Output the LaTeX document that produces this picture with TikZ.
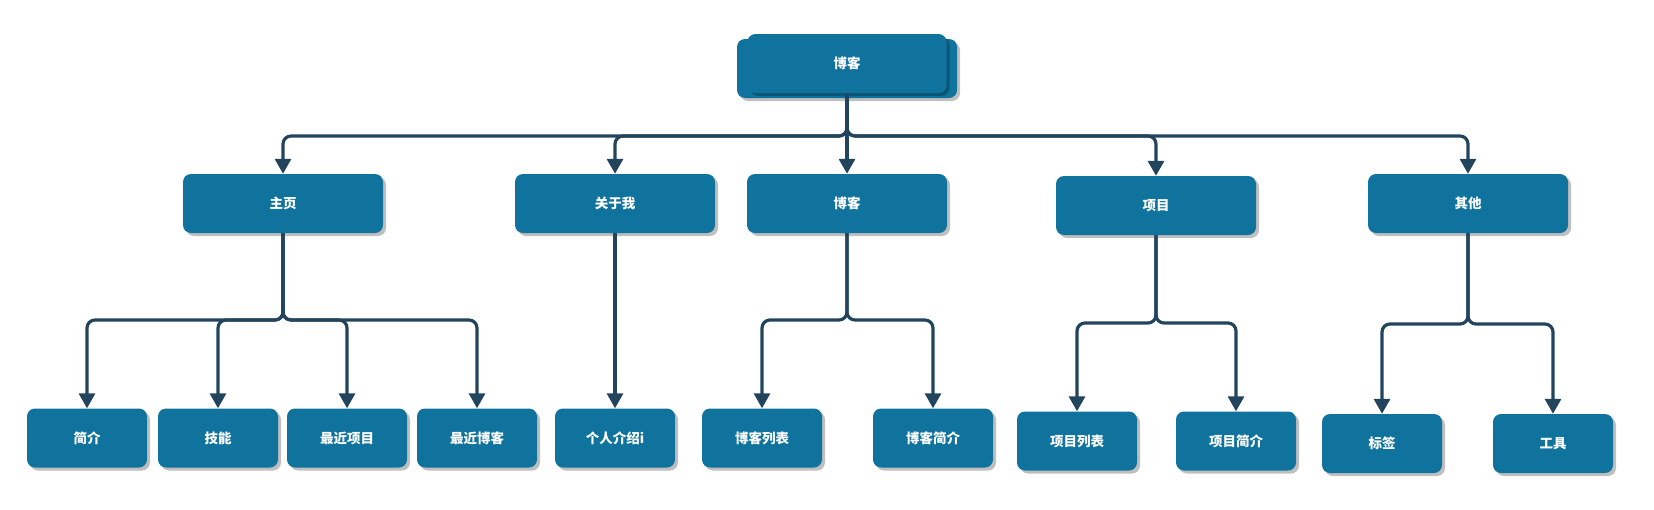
\documentclass[tikz,border=0pt]{standalone}
\usepackage{fontspec}
\setmainfont{Noto Sans CJK SC}
\usetikzlibrary{arrows.meta,shadows}
\definecolor{boxblue}{HTML}{10739E}
\definecolor{linkblue}{HTML}{23445D}
\begin{document}
\begin{tikzpicture}[x=1pt,y=-1pt,
		box/.style={fill=boxblue, rounded corners=8pt, text=white,
			font=\bfseries\fontsize{13.5}{15}\selectfont, minimum height=59pt,
			drop shadow={shadow xshift=3pt, shadow yshift=-3pt, fill=black, opacity=0.25}},
		big/.style={box, minimum width=200pt},
		small/.style={box, minimum width=120pt},
		link/.style={draw=linkblue, line width=3.2pt, rounded corners=8pt,
			-{Triangle[width=16pt,length=15pt]}}]
		\useasboundingbox (0,0) rectangle (1654,509);
		
		\node[box, minimum width=220pt] (blog-back) at (847,68.5) {};
		\node[box, minimum width=199pt] (blog) at (847,63.5) {博客};
		
		\node[big] (home) at (283,203.5) {主页};
		\node[big] (about) at (615,203.5) {关于我};
		\node[big] (posts) at (847,203.5) {博客};
		\node[big] (proj) at (1156,205.5) {项目};
		\node[big] (other) at (1468,203.5) {其他};
		
		\node[small] (intro) at (87,438) {简介};
		\node[small] (skill) at (218,438) {技能};
		\node[small] (recent-proj) at (347,438) {最近项目};
		\node[small] (recent-post) at (477,438) {最近博客};
		\node[small] (me) at (615,438) {个人介绍i};
		\node[small] (post-list) at (762,438) {博客列表};
		\node[small] (post-info) at (933,438) {博客简介};
		\node[small] (proj-list) at (1077,441) {项目列表};
		\node[small] (proj-info) at (1236,441) {项目简介};
		\node[small] (tag) at (1382,443.5) {标签};
		\node[small] (tool) at (1553,443.5) {工具};
		
		\coordinate (j0) at (847,136);
		\coordinate (j1) at (283,320);
		\coordinate (j2) at (847,320);
		\coordinate (j3) at (1156,323);
		\coordinate (j4) at (1468,324);
		
		\draw[link] (blog.south) -- (j0) -| (home.north);
		\draw[link] (blog.south) -- (j0) -| (about.north);
		\draw[link] (blog.south) -- (posts.north);
		\draw[link] (blog.south) -- (j0) -| (proj.north);
		\draw[link] (blog.south) -- (j0) -| (other.north);
		
		\draw[link] (home.south) -- (j1) -| (intro.north);
		\draw[link] (home.south) -- (j1) -| (skill.north);
		\draw[link] (home.south) -- (j1) -| (recent-proj.north);
		\draw[link] (home.south) -- (j1) -| (recent-post.north);
		
		\draw[link] (about.south) -- (me.north);
		
		\draw[link] (posts.south) -- (j2) -| (post-list.north);
		\draw[link] (posts.south) -- (j2) -| (post-info.north);
		
		\draw[link] (proj.south) -- (j3) -| (proj-list.north);
		\draw[link] (proj.south) -- (j3) -| (proj-info.north);
		
		\draw[link] (other.south) -- (j4) -| (tag.north);
		\draw[link] (other.south) -- (j4) -| (tool.north);
	\end{tikzpicture}
\end{document}
